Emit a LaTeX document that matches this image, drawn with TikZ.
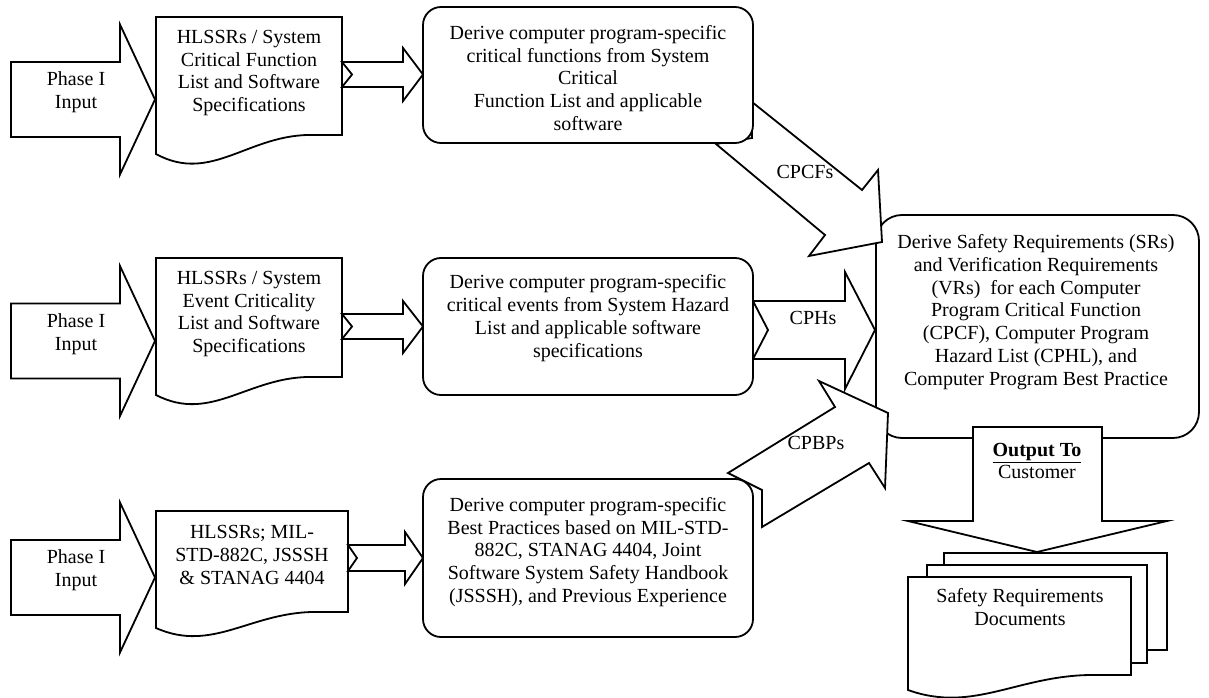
\documentclass[tikz,border=0pt]{standalone}
\usepackage{fontspec}
\setmainfont{Liberation Serif}

% document symbol with a wavy lower edge: #1=left x, #2=top y, #3=right x, #4=bottom y at the right, #5=drop at the left
\newcommand{\docshape}[5]{%
  \filldraw[outline] (#1,#2) -- (#3,#2) -- (#3,#4) -- ({#1+0.85*(#3-#1)},#4)
    .. controls ({#1+0.5*(#3-#1)},{#4-0.1*#5}) and ({#1+0.3*(#3-#1)},{#4+2.6*#5}) .. (#1,{#4+#5}) -- cycle;}

\begin{document}
\begin{tikzpicture}[x=1pt,y=-1pt,
  every node/.style={font=\fontsize{20}{22.8}\selectfont, align=center, inner sep=0pt, text=black},
  outline/.style={draw=black, line width=1.8pt, fill=white, line join=miter},
  procbox/.style={outline, rounded corners=18},
  bigbox/.style={outline, rounded corners=26}]

\useasboundingbox (0,0) rectangle (1209,698);

% ---------- Safety requirements process (drawn first, arrows overlap it)
\node[bigbox, minimum width=323, minimum height=223] (sr) at (1037.5,326.5) {};
\node (srtext) at (1036,312) {Derive Safety Requirements (SRs)\\and Verification Requirements\\(VRs)\ \ for each Computer\\Program Critical Function\\(CPCF), Computer Program\\Hazard List (CPHL), and\\Computer Program Best Practice};

% ---------- Phase I inputs
\foreach \c/\n in {99.5/1, 341/2, 577.5/3}{
  \filldraw[outline] (11,\c-37.5) -- (120,\c-37.5) -- (120,\c-75) -- (155,\c)
    -- (120,\c+75) -- (120,\c+37.5) -- (11,\c+37.5) -- cycle;
  \node (phase\n) at (76,\c-7) {Phase I\\Input};
}

% ---------- Input documents
\docshape{156}{17}{342}{135}{19}
\node (doc1) at (249,73) {HLSSRs / System\\Critical Function\\List and Software\\Specifications};
\docshape{156}{258}{342}{377}{18}
\node (doc2) at (249,314) {HLSSRs / System\\Event Criticality\\List and Software\\Specifications};
\docshape{156}{511}{348}{612}{16}
\node (doc3) at (252,555) {HLSSRs; MIL-\\STD-882C, JSSSH\\\& STANAG 4404};

% ---------- Notched arrows from documents to derivation steps
\filldraw[outline] (342,62) -- (403,62) -- (403,48) -- (423,74.5) -- (403,101) -- (403,87) -- (342,87) -- (352,74.5) -- cycle;
\filldraw[outline] (342,314) -- (403,314) -- (403,301) -- (423,326.5) -- (403,353) -- (403,339) -- (342,339) -- (352,326.5) -- cycle;
\filldraw[outline] (348,545) -- (405,545) -- (405,532) -- (423,558) -- (405,584) -- (405,571) -- (348,571) -- (357,558) -- cycle;

% ---------- CPCFs
\filldraw[outline] (752,102) -- (862,190) -- (878,170) -- (882,242) -- (809,256) -- (825,235) -- (716,144) -- (752,138) -- cycle;
\node (cpcfs) at (805,172) {CPCFs};

% ---------- CPHs
\filldraw[outline] (753,301) -- (845,301) -- (845,272) -- (875,330) -- (845,389) -- (845,359) -- (753,359) -- (768,330) -- cycle;
\node (cphs) at (813,318) {CPHs};

% ---------- CPBPs
\filldraw[outline] (728,473) -- (835,407) -- (819,381) -- (888,413) -- (885,488) -- (869,463) -- (762,527) -- (762,490) -- cycle;
\node (cpbps) at (816,443) {CPBPs};

% ---------- Derivation steps
\node[procbox, minimum width=330, minimum height=136] (box1) at (588,75) {};
\node (box1text) at (588,78) {Derive computer program-specific\\critical functions from System\\Critical\\Function List and applicable\\software};
\node[procbox, minimum width=330, minimum height=137] (box2) at (588,326.5) {};
\node (box2text) at (588,318) {Derive computer program-specific\\critical events from System Hazard\\List and applicable software\\specifications};
\node[procbox, minimum width=330, minimum height=158] (box3) at (588,558) {};
\node (box3text) at (588,552) {Derive computer program-specific\\Best Practices based on MIL-STD-\\882C, STANAG 4404, Joint\\Software System Safety Handbook\\(JSSSH), and Previous Experience};

% ---------- Output to customer
\filldraw[outline] (973,427) -- (1102,427) -- (1102,521) -- (1167,521) -- (1037,552) -- (908,521) -- (973,521) -- cycle;
\node (output) at (1037,461) {\textbf{\underline{Output To}}\\Customer};

% ---------- Safety requirements documents (stack)
\filldraw[outline] (944,553) rectangle (1167,650);
\filldraw[outline] (927,565) rectangle (1147,663);
\docshape{908}{577}{1131}{675}{15}
\node (srdocs) at (1020,607) {Safety Requirements\\Documents};

\end{tikzpicture}
\end{document}
